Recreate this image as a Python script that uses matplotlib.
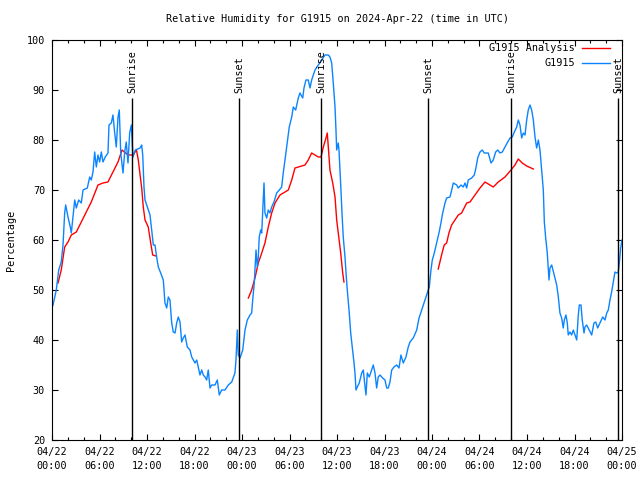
import numpy as np
import matplotlib
matplotlib.use("Agg")
import matplotlib.pyplot as plt
from matplotlib.ticker import MultipleLocator

# hours since 2024-04-22 00:00 UTC, relative humidity (%)
obs_hours = [0.0, 0.13, 0.54, 0.85, 1.17, 1.39, 1.60, 1.73, 2.02, 2.31, 2.44, 2.65, 2.87, 3.07, 3.37, 3.70,
             3.92, 4.46, 4.76, 4.96, 5.18, 5.39, 5.60, 5.81, 6.02, 6.23, 6.44, 6.73, 7.07, 7.20, 7.49,
             7.70, 7.92, 8.12, 8.34, 8.50, 8.68, 8.97, 9.18, 9.38, 9.60, 9.81, 10.02, 10.23, 10.52,
             11.12, 11.33, 11.46, 11.62, 11.75, 11.96, 12.16, 12.38, 12.59, 12.80, 13.01, 13.22, 13.43,
             13.73, 14.06, 14.27, 14.49, 14.69, 14.90, 15.12, 15.32, 15.54, 15.75, 15.95, 16.17, 16.38,
             16.58, 16.80, 17.09, 17.43, 17.65, 18.06, 18.28, 18.69, 18.91, 19.11, 19.33, 19.54, 19.74,
             19.96, 20.17, 20.59, 20.88, 21.13, 21.43, 21.85, 22.27, 22.70, 23.11, 23.24, 23.41, 23.53,
             23.75, 24.09, 24.38, 24.67, 25.01, 25.22, 25.35, 25.55, 25.77, 25.93, 26.06, 26.18, 26.36,
             26.49, 26.61, 26.78, 26.90, 27.12, 27.32, 27.53, 27.75, 28.04, 28.38, 28.71, 29.01, 29.21,
             29.43, 29.72, 29.97, 30.28, 30.48, 30.78, 31.11, 31.32, 31.67, 31.83, 32.08, 32.37, 32.59,
             32.80, 33.22, 33.64, 34.07, 34.48, 34.90, 35.11, 35.33, 35.53, 35.75, 35.87, 35.96, 36.16,
             36.25, 36.38, 36.50, 36.63, 36.79, 37.01, 37.14, 37.30, 37.55, 37.73, 37.93, 38.15, 38.27,
             38.40, 38.56, 38.81, 39.12, 39.32, 39.45, 39.66, 39.83, 40.08, 40.38, 40.58, 40.80, 41.01,
             41.21, 41.43, 41.77, 42.06, 42.28, 42.48, 42.69, 42.91, 43.20, 43.54, 43.83, 44.08, 44.37,
             44.71, 45.00, 45.22, 45.63, 46.07, 46.36, 46.70, 47.11, 47.40, 47.66, 47.87, 48.04, 48.29,
             48.59, 48.88, 49.13, 49.30, 49.64, 49.85, 50.27, 50.49, 50.69, 51.12, 51.32, 51.66, 51.95,
             52.17, 52.38, 52.58, 53.01, 53.34, 53.55, 53.77, 54.06, 54.35, 54.60, 55.11, 55.45, 55.74,
             56.04, 56.30, 56.59, 56.88, 57.22, 57.56, 57.85, 58.14, 58.40, 58.70, 58.90, 59.11, 59.33,
             59.53, 59.75, 59.96, 60.16, 60.38, 60.59, 60.80, 61.01, 61.22, 61.43, 61.64, 61.85, 62.06,
             62.19, 62.36, 62.56, 62.69, 62.78, 62.90, 63.12, 63.32, 63.53, 63.75, 63.95, 64.16, 64.38,
             64.58, 64.71, 64.92, 65.09, 65.21, 65.43, 65.64, 65.85, 66.06, 66.28, 66.48, 66.61, 66.82,
             66.98, 67.20, 67.32, 67.54, 67.86, 68.17, 68.46, 68.68, 68.93, 69.22, 69.56, 69.85, 70.07,
             70.27, 70.48, 70.69, 70.90, 71.11, 71.33, 71.53, 71.66, 71.83, 72.0]
obs_rh = [46.5, 47, 50, 54, 55.6, 59, 65.4, 67, 64.6, 62.6, 61.4, 64.6, 68, 66.4, 68, 67.4,
          70, 70.4, 72.6, 72, 73.6, 77.6, 74.6, 77, 75.6, 77.6, 75.6, 76.6, 77.4, 83, 83.4,
          85, 81.4, 78.6, 84.6, 86, 77.4, 73.4, 77.6, 79.6, 75.4, 81.4, 83, 76.6, 78,
          78.4, 79, 77, 70.6, 68, 67, 66, 65, 62, 59, 59, 56.6, 54.6,
          53.4, 52, 47.4, 46.4, 48.6, 48, 43.4, 41.6, 41.4, 43.4, 44.6, 43.6, 39.6,
          40.4, 41, 38.6, 38, 36.6, 35.4, 36, 33, 34, 33, 32.6, 32, 34,
          30.4, 31, 31, 32, 29, 30, 30, 31, 31.6, 33.4, 36, 42, 37,
          36.4, 38, 42, 44, 45, 45.4, 48, 51.4, 58, 54.6, 56.6, 60.6, 62,
          61.4, 65.4, 71.4, 65.4, 64.4, 66, 65.4, 66.6, 67.6, 69.4, 70, 70.6, 73.4,
          76, 79.6, 82.6, 84.6, 86.6, 86, 88.4, 89.4, 88.4, 90.4, 92, 92, 90.4,
          92, 94, 95, 96, 97, 97, 96.6, 95.4, 91.4, 86.6, 82, 78, 79.4,
          78, 74, 70, 65.4, 60.6, 56.6, 53.4, 50, 45.4, 41.4, 38.6, 35.4, 33.4,
          30, 30.6, 31.4, 33.4, 34, 32, 29, 33.4, 32.6, 34, 35, 33.4, 30.4,
          32.6, 33, 32.4, 32, 30.4, 30.4, 31.6, 34, 34.6, 35, 34.4, 37, 35.4,
          36.6, 38.6, 39.6, 40.4, 42, 44.4, 46, 48, 49.4, 50.6, 54, 56, 57.4,
          59.4, 61.4, 63.4, 65, 67.4, 68.4, 68.6, 70, 71.4, 71, 70.4, 71, 70.6,
          71.4, 70.4, 72, 72.4, 73, 74.4, 76.4, 77.6, 78, 77.4, 77.4, 75.4, 76,
          77.6, 78, 77.4, 77.6, 78.6, 79.6, 80.4, 80.6, 81.6, 82.6, 84, 83, 80.4,
          81.4, 81, 84, 86, 87, 86, 84, 80.6, 78.4, 80, 78, 74, 70,
          63.6, 60.4, 57.4, 54.4, 52, 54.4, 55, 53.7, 52.4, 51, 48.7, 45.4, 44.4,
          42.4, 44, 45, 43.4, 41, 41.6, 41, 42, 41, 40, 45, 47, 47,
          44, 41.4, 42.6, 43, 42, 41, 43.4, 43.6, 42.4, 43.4, 44.6, 44, 45.4,
          46, 48, 49.6, 51.6, 53.6, 53.4, 53.6, 55.4, 58.4, 60]

# analysis runs (three separate segments)
ana1_hours = [0.76, 1.17, 1.60, 2.02, 2.44, 3.07, 3.70, 4.33, 4.96, 5.81, 6.44, 7.07, 7.70, 8.34,
              8.84, 9.60, 10.23, 10.67, 10.90, 11.33, 11.53, 11.75, 12.16, 12.47, 12.72, 13.14]
ana1_rh = [51.4, 54, 58.6, 59.6, 61, 61.6, 63.6, 65.6, 67.6, 71, 71.4, 71.6, 73.6, 75.6,
           78, 77, 77, 78, 76, 70.4, 66.6, 64, 62.6, 59.4, 57, 56.8]
ana2_hours = [24.80, 25.22, 25.64, 26.06, 26.49, 26.90, 27.32, 27.75, 28.17, 28.80, 29.43, 29.85,
              30.28, 30.69, 31.11, 31.96, 32.37, 32.80, 33.22, 33.64, 33.98, 34.27, 34.61, 34.77,
              34.93, 35.11, 35.46, 35.75, 35.96, 36.16, 36.47, 36.72, 36.88]
ana2_rh = [48.4, 50, 52.4, 55.4, 57.4, 59.4, 62.6, 65.4, 67.4, 69, 69.6, 70,
           72, 74.4, 74.6, 75, 76, 77.4, 77, 76.6, 76.6, 78.6, 80.4, 81.4,
           78, 74, 71.4, 68.6, 64, 61.4, 57.4, 53.4, 51.6]
ana3_hours = [48.79, 49.21, 49.54, 49.85, 50.14, 50.48, 50.90, 51.32, 51.74, 52.38, 52.80, 53.43,
              54.06, 54.69, 55.32, 55.74, 56.37, 57.22, 57.98, 58.48, 58.90, 59.40, 59.96, 60.80]
ana3_rh = [54.2, 57, 59, 59.4, 61.4, 63, 64, 65, 65.4, 67.4, 67.6, 69,
           70.4, 71.6, 71, 70.6, 71.6, 72.6, 74, 75, 76.2, 75.4, 74.8, 74.2]

event_hours = [10.10, 23.62, 33.98, 47.55, 57.98, 71.55]
event_names = ["Sunrise", "Sunset", "Sunrise", "Sunset", "Sunrise", "Sunset"]

tick_hours = [0, 6, 12, 18, 24, 30, 36, 42, 48, 54, 60, 66, 72]
tick_labels = ["04/22\n00:00", "04/22\n06:00", "04/22\n12:00", "04/22\n18:00",
               "04/23\n00:00", "04/23\n06:00", "04/23\n12:00", "04/23\n18:00",
               "04/24\n00:00", "04/24\n06:00", "04/24\n12:00", "04/24\n18:00",
               "04/25\n00:00"]

plt.rcParams['font.family'] = ['DejaVu Sans Mono']
fs = 7.3
red = "#ff0000"
blue = "#0a84ff"

fig = plt.figure(figsize=(6.4, 4.8), dpi=100)
ax = fig.add_axes([52 / 640, 40 / 480, 570 / 640, 400 / 480])

ax.plot(ana1_hours, ana1_rh, color=red, lw=1.0)
ax.plot(ana2_hours, ana2_rh, color=red, lw=1.0)
ax.plot(ana3_hours, ana3_rh, color=red, lw=1.0)
ax.plot(obs_hours, obs_rh, color=blue, lw=1.0)

for h, name in zip(event_hours, event_names):
    ax.vlines(h, 20, 88.3, color="black", lw=1.0)
    ax.text(h, 89.4, name, rotation=90, ha="center", va="bottom", fontsize=fs)

ax.set_xlim(0, 72)
ax.set_ylim(20, 100)
ax.set_xticks(tick_hours)
ax.set_xticklabels(tick_labels, fontsize=fs, linespacing=1.45)
ax.xaxis.set_minor_locator(MultipleLocator(2))
ax.set_yticks(np.arange(20, 101, 10))
ax.tick_params(axis="y", labelsize=fs)
ax.tick_params(which="both", direction="in", top=True, right=True, width=0.8)
ax.tick_params(which="major", length=4.5, pad=5)
ax.tick_params(which="minor", length=2.5)
for s in ax.spines.values():
    s.set_linewidth(0.8)

# legend drawn by hand, gnuplot style
ax.text(0.9175, 0.98, "G1915 Analysis", transform=ax.transAxes, ha="right", va="center", fontsize=fs)
ax.plot([0.930, 0.979], [0.98, 0.98], color=red, lw=1.0, transform=ax.transAxes, clip_on=False)
ax.text(0.9175, 0.9425, "G1915", transform=ax.transAxes, ha="right", va="center", fontsize=fs)
ax.plot([0.930, 0.979], [0.9425, 0.9425], color=blue, lw=1.0, transform=ax.transAxes, clip_on=False)

fig.text(337 / 640, 1 - 19 / 480, "Relative Humidity for G1915 on 2024-Apr-22 (time in UTC)",
         ha="center", va="center", fontsize=fs)
fig.text(11 / 640, 0.5, "Percentage", rotation=90, ha="center", va="center", fontsize=fs)

fig.savefig("out.png", dpi=100)
